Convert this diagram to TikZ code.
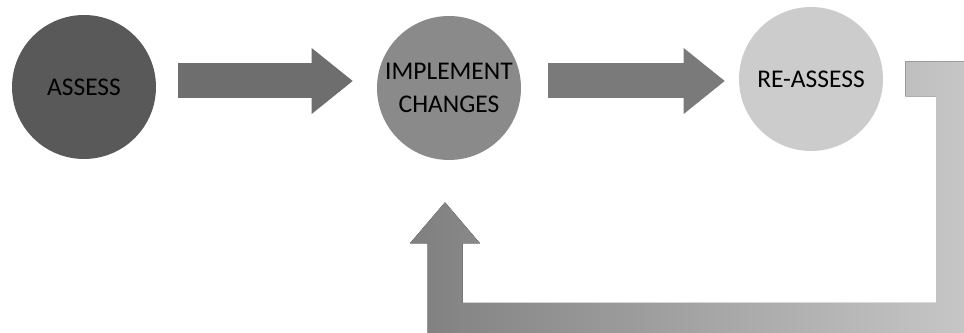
\documentclass[tikz,border=0pt]{standalone}
\usepackage{fontspec}
\setmainfont{Carlito}
\usepackage{xcolor}
\usepackage{tikz}
\usetikzlibrary{arrows.meta,positioning,calc}

\begin{document}
\begin{tikzpicture}[
    x=0.02cm, y=-0.02cm,
    stage/.style={circle, minimum size=2.88cm, inner sep=0pt, align=center,
        text=black, font=\fontsize{14.5}{19}\selectfont},
    flow/.style={line width=0.7cm,
        -{Triangle[length=0.82cm, width=1.32cm, line width=0pt]}},
]
\useasboundingbox (0,0) rectangle (964,333);
\fill[white] (0,0) rectangle (964,333);
\clip (0,0) rectangle (964,333);

\node[stage, fill=black!65] (assess) at (84,87) {ASSESS};
\node[stage, fill=black!46] (impl) at (449,88) {IMPLEMENT\\CHANGES};
\node[stage, fill=black!20] (reassess) at (811,79) {RE-ASSESS};

\draw[flow, black!57] ($(assess.east)+(22,-6)$) -- ($(impl.west)+(-24,-7)$);
\draw[flow, black!52] ($(impl.east)+(27,-7)$) -- ($(reassess.west)+(-14,2)$);

% feedback loop back to the middle stage
\coordinate (fbA) at ($(reassess.east)+(22,0)$);
\coordinate (fbR) at (953.5,320.5);
\coordinate (fbT) at ($(impl.south)+(-4,42)$);
\fill[left color=black!50, right color=black!22]
    ($(fbA)+(0,-17.5)$) -- ($(fbA -| fbR)+(17.5,-17.5)$)
    -- ($(fbR)+(17.5,17.5)$) -- ($(fbR -| fbT)+(-17.5,17.5)$)
    -- ($(fbT)+(-17.5,41)$) -- ($(fbT)+(-35,41)$) -- (fbT)
    -- ($(fbT)+(35,41)$) -- ($(fbT)+(17.5,41)$)
    -- ($(fbR -| fbT)+(17.5,-17.5)$) -- ($(fbR)+(-17.5,-17.5)$)
    -- ($(fbA -| fbR)+(-17.5,17.5)$) -- ($(fbA)+(0,17.5)$) -- cycle;
\end{tikzpicture}
\end{document}
